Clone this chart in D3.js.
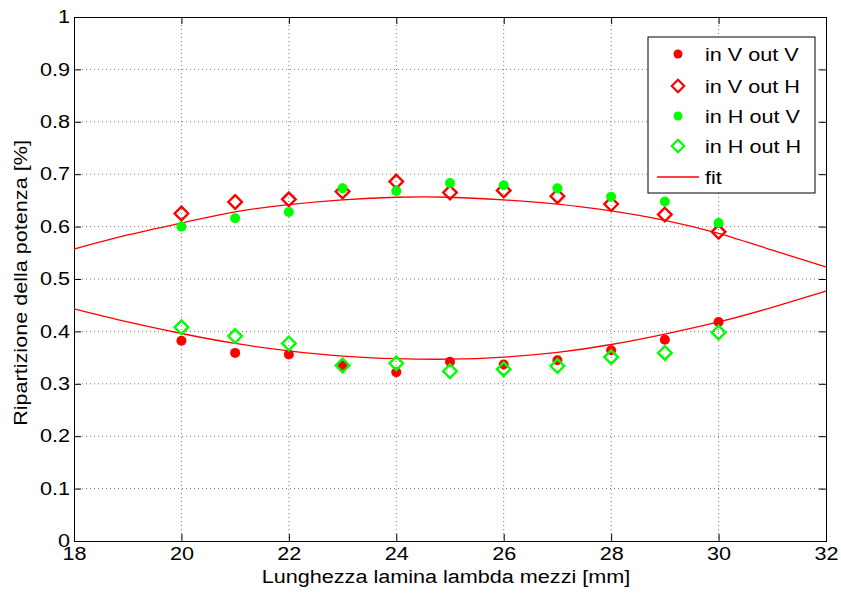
<!DOCTYPE html>
<html><head><meta charset="utf-8">
<script src="https://cdn.jsdelivr.net/npm/d3@7"></script>
<style>body{margin:0;background:#fff}svg{display:block}text{font-family:"Liberation Sans",Arial,sans-serif;fill:#000}</style>
</head><body><svg id="c" width="841" height="595"></svg>
<script>
const xs = [20,21,22,23,24,25,26,27,28,29,30];
const inVoutV = [0.382,0.359,0.356,0.335,0.322,0.342,0.337,0.345,0.364,0.384,0.418];
const inVoutH = [0.625,0.647,0.652,0.667,0.686,0.665,0.669,0.658,0.643,0.623,0.590];
const inHoutV = [0.600,0.616,0.628,0.673,0.668,0.683,0.679,0.673,0.657,0.648,0.607];
const inHoutH = [0.408,0.391,0.377,0.335,0.339,0.324,0.328,0.334,0.351,0.359,0.398];
const fitX = [18,19,20,21,22,23,24,25,26,27,28,29,30,31,32];
const fitUpper = [0.557,0.584,0.607,0.628,0.642,0.651,0.656,0.656,0.651,0.643,0.630,0.612,0.587,0.555,0.523];
const fitLower = [0.443,0.418,0.396,0.377,0.363,0.353,0.348,0.347,0.351,0.360,0.375,0.395,0.418,0.446,0.477];
const xTicks = [18,20,22,24,26,28,30,32];
const yTicks = [0,0.1,0.2,0.3,0.4,0.5,0.6,0.7,0.8,0.9,1];
const legendLabels = ["in V out V","in V out H","in H out V","in H out H","fit"];

const svg = d3.select("#c");
const L=74,R=826,T=17,B=541;
const x = d3.scaleLinear().domain([18,32]).range([L,R]);
const y = d3.scaleLinear().domain([0,1]).range([B,T]);
const RED="#ff0000", GREEN="#00ff00";
const FS = "18px", STRETCH = 1.2;

// grid
const g = svg.append("g");
g.selectAll(".gx").data(xTicks.slice(1,-1)).enter().append("line")
 .attr("x1",d=>x(d)).attr("x2",d=>x(d)).attr("y1",T).attr("y2",B)
 .attr("stroke","#777").attr("stroke-width",1).attr("stroke-dasharray","1,3");
g.selectAll(".gy").data(yTicks.slice(1,-1)).enter().append("line")
 .attr("y1",d=>y(d)).attr("y2",d=>y(d)).attr("x1",L).attr("x2",R)
 .attr("stroke","#777").attr("stroke-width",1).attr("stroke-dasharray","1,3");

// axes
const fmt = d=> d===0?"0":(d===1?"1":d3.format(".1f")(d));
const ax = svg.append("g").attr("transform",`translate(0,${B})`).call(d3.axisBottom(x).tickValues(xTicks).tickSize(-7).tickPadding(6).tickFormat(d3.format("d")));
const ay = svg.append("g").attr("transform",`translate(${L},0)`).call(d3.axisLeft(y).tickValues(yTicks).tickSize(-7).tickPadding(4).tickFormat(fmt));
const axT = svg.append("g").attr("transform",`translate(0,${T})`).call(d3.axisTop(x).tickValues(xTicks).tickSize(-7).tickFormat(""));
const ayR = svg.append("g").attr("transform",`translate(${R},0)`).call(d3.axisRight(y).tickValues(yTicks).tickSize(-7).tickFormat(""));
[ax,ay,axT,ayR].forEach(a=>{a.select(".domain").attr("stroke","#000").attr("stroke-width",1);
 a.selectAll(".tick line").attr("stroke","#000");
 a.selectAll("text").style("font-size",FS).style("font-family","'Liberation Sans',Arial,sans-serif").attr("fill","#000");});

// fit lines
const line = d3.line().x(d=>x(d[0])).y(d=>y(d[1])).curve(d3.curveNatural);
[fitUpper,fitLower].forEach(arr=>{
 svg.append("path").datum(fitX.map((v,i)=>[v,arr[i]])).attr("d",line)
  .attr("fill","none").attr("stroke",RED).attr("stroke-width",1.3);
});

const dia = (cx,cy,s)=>`M${cx},${cy-s}L${cx+s},${cy}L${cx},${cy+s}L${cx-s},${cy}Z`;
function drawFilled(vals,color){
 svg.append("g").selectAll("circle").data(xs.map((v,i)=>[v,vals[i]])).enter().append("circle")
  .attr("cx",d=>x(d[0])).attr("cy",d=>y(d[1])).attr("r",5).attr("fill",color);
}
function drawOpen(vals,color){
 svg.append("g").selectAll("path").data(xs.map((v,i)=>[v,vals[i]])).enter().append("path")
  .attr("d",d=>dia(x(d[0]),y(d[1]),6.8)).attr("fill","none").attr("stroke",color).attr("stroke-width",2.4);
}
drawFilled(inVoutV,RED);
drawOpen(inVoutH,RED);
drawFilled(inHoutV,GREEN);
drawOpen(inHoutH,GREEN);

// legend
const lg = svg.append("g");
lg.append("rect").attr("x",648).attr("y",37).attr("width",167).attr("height",156).attr("fill","#fff").attr("stroke","#000").attr("stroke-width",1);
const ly=[54,86,116,146,177];
lg.append("circle").attr("cx",678).attr("cy",ly[0]).attr("r",4.5).attr("fill",RED);
lg.append("path").attr("d",dia(678,ly[1],6.2)).attr("fill","none").attr("stroke",RED).attr("stroke-width",2.2);
lg.append("circle").attr("cx",678).attr("cy",ly[2]).attr("r",4.5).attr("fill",GREEN);
lg.append("path").attr("d",dia(678,ly[3],6.2)).attr("fill","none").attr("stroke",GREEN).attr("stroke-width",2.2);
lg.append("line").attr("x1",657).attr("x2",699).attr("y1",ly[4]).attr("y2",ly[4]).attr("stroke",RED).attr("stroke-width",1.3);
legendLabels.forEach((t,i)=>lg.append("text").attr("x",705).attr("y",ly[i]+6.5).style("font-size",FS).text(t));

// axis labels
svg.append("text").attr("x",446).attr("y",583).attr("text-anchor","middle").style("font-size",FS).text("Lunghezza lamina lambda mezzi [mm]");
svg.append("text").attr("transform","translate(27,283) rotate(-90)").attr("text-anchor","middle").style("font-size",FS).text("Ripartizione della potenza [%]");

// horizontal widening of all text to match the reference's wider glyphs
svg.selectAll("text").each(function(){
 const w = this.getComputedTextLength();
 if (w>0) d3.select(this).attr("textLength", w*STRETCH).attr("lengthAdjust","spacingAndGlyphs");
});
</script></body></html>
